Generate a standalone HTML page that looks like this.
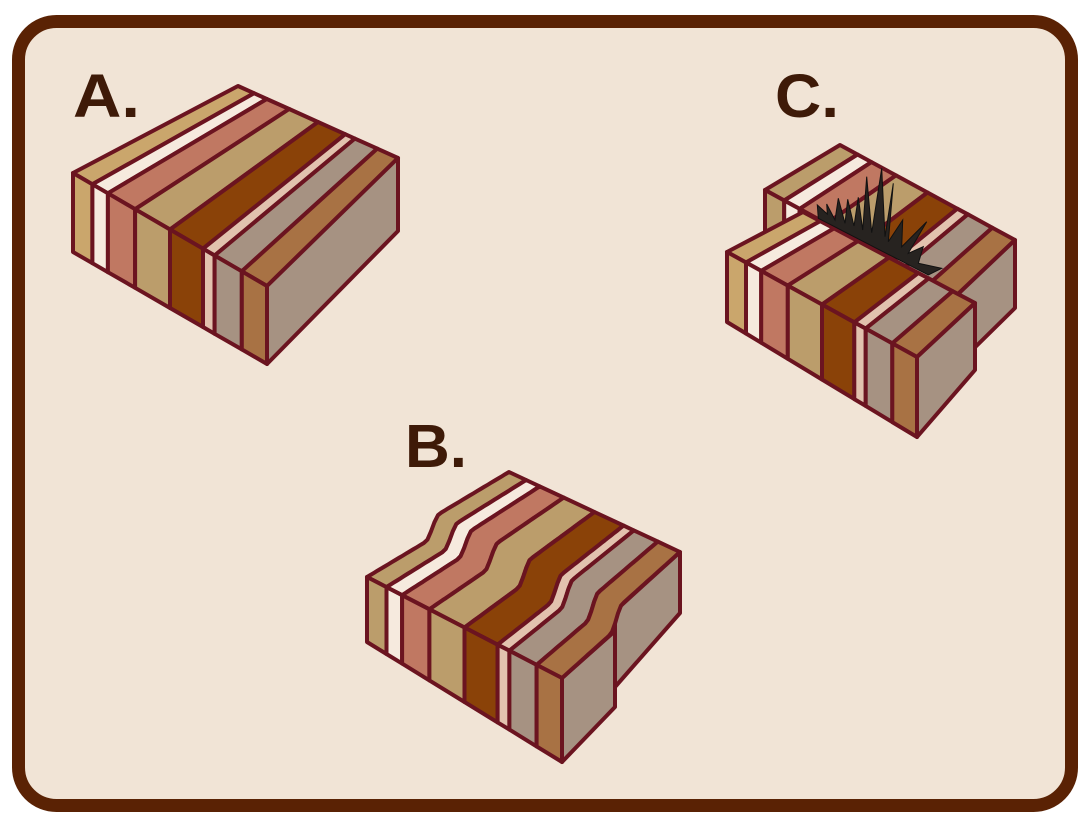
<!DOCTYPE html>
<html><head><meta charset="utf-8">
<style>
html,body{margin:0;padding:0;background:#fff;}
svg{display:block;}
text{font-family:"Liberation Sans",sans-serif;font-weight:bold;}
</style></head>
<body>
<svg id="svg" width="1090" height="829" viewBox="0 0 1090 829" xmlns="http://www.w3.org/2000/svg">
  <rect x="18.5" y="21.5" width="1053" height="784" rx="38" fill="#f1e4d6" stroke="#5a2204" stroke-width="13"/>
  <text x="73" y="117" font-size="61" fill="#3e1a08" textLength="67" lengthAdjust="spacingAndGlyphs">A.</text>
  <text x="405" y="467" font-size="61" fill="#3e1a08" textLength="62" lengthAdjust="spacingAndGlyphs">B.</text>
  <text x="775" y="117" font-size="61" fill="#3e1a08" textLength="64" lengthAdjust="spacingAndGlyphs">C.</text>
  <g id="blocks"></g>
</svg>
<script>
const fracs=[0,.10,.18,.32,.50,.67,.73,.87,1];
const colors=["#caa66c","#f6eade","#c07862","#bb9d6b","#8a4208","#e2c2ae","#a69282","#a87244"];
const colorsB=["#bb9d6b","#f6eade","#c07862","#bb9d6b","#8a4208","#e2c2ae","#a69282","#a87244"];
const STROKE="#6b1420";
const NS="http://www.w3.org/2000/svg";
const root=document.getElementById("blocks");
function L(a,b,t){return [a[0]+(b[0]-a[0])*t,a[1]+(b[1]-a[1])*t];}
function poly(pts,fill,name,parent){
  const p=document.createElementNS(NS,"polygon");
  p.setAttribute("points",pts.map(q=>q[0].toFixed(1)+","+q[1].toFixed(1)).join(" "));
  p.setAttribute("fill",fill);
  p.setAttribute("stroke",STROKE);
  p.setAttribute("stroke-width","4");
  p.setAttribute("stroke-linejoin","round");
  
  
  (parent||root).appendChild(p);
  return p;
}
function block(FL,FR,BR,BL,hl,hf,hb,name,cols){
  const g=document.createElementNS(NS,"g");
  
  
  root.appendChild(g);
  const FLb=[FL[0],FL[1]+hl],FRb=[FR[0],FR[1]+hf];
  for(let i=0;i<cols.length;i++){
    const a=fracs[i],b=fracs[i+1];
    poly([L(FL,FR,a),L(FL,FR,b),L(BL,BR,b),L(BL,BR,a)],cols[i],name+"-top-layer",g);
    poly([L(FL,FR,a),L(FL,FR,b),L(FLb,FRb,b),L(FLb,FRb,a)],cols[i],name+"-front-layer",g);
  }
  poly([FR,BR,[BR[0],BR[1]+hb],FRb],"#a69282",name+"-side-face",g);
}
block([765,190],[957,295],[1015,240],[840,145],70,70,68,"block-c-back",colorsB);
block([73,173],[267,286],[398,158],[238,86],79,78,73,"block-a",colors);
block([727,252],[917,357],[975,303],[803,212],70,80,67,"block-c-front",colors);

const sp=[[295,235],[292,195],[322,222],[320,192],[345,240],[355,175],[375,250],[383,178],[402,258],[415,172],[428,270],[440,110],[455,278],[485,85],[495,290],[520,130],[505,305],[548,240],[545,320],[620,245],[565,340],[610,320],[595,370],[665,385],[625,405]];
const sg=document.createElementNS(NS,"polygon");
sg.setAttribute("points",sp.map(q=>(720+q[0]/3).toFixed(1)+","+(140+q[1]/3).toFixed(1)).join(" "));
sg.setAttribute("fill","#272320");
sg.setAttribute("stroke","#111");
sg.setAttribute("stroke-width","1");


root.appendChild(sg);

(function(){
  const g=document.createElementNS(NS,"g");
  
  
  root.appendChild(g);
  const FL=[367,577],FR=[562,678],BLu=[509,492],BRu=[680,572];
  const FLb=[367,642],FRb=[562,762];
  function sm(x){x=Math.max(0,Math.min(1,x));return x*x*(3-2*x);}
  function line(f){
    const F=L(FL,FR,f),B=L(BLu,BRu,f),pts=[];
    for(let k=0;k<=40;k++){const s=k/40;const p=L(F,B,s);pts.push([p[0],p[1]-20*sm((s-0.41)/0.1)]);}
    return pts;
  }
  poly([[615,611],[680,552],[680,613],[615,687]],"#a69282","block-b-side-back",g);
  poly([[562,678],[615,631],[615,707],[562,762]],"#a69282","block-b-side-front",g);
  for(let i=0;i<colorsB.length;i++){
    const a=fracs[i],b=fracs[i+1];
    poly(line(a).concat(line(b).reverse()),colorsB[i],"block-b-top-layer",g);
    poly([L(FL,FR,a),L(FL,FR,b),L(FLb,FRb,b),L(FLb,FRb,a)],colorsB[i],"block-b-front-layer",g);
  }
})();
</script>
</body></html>
